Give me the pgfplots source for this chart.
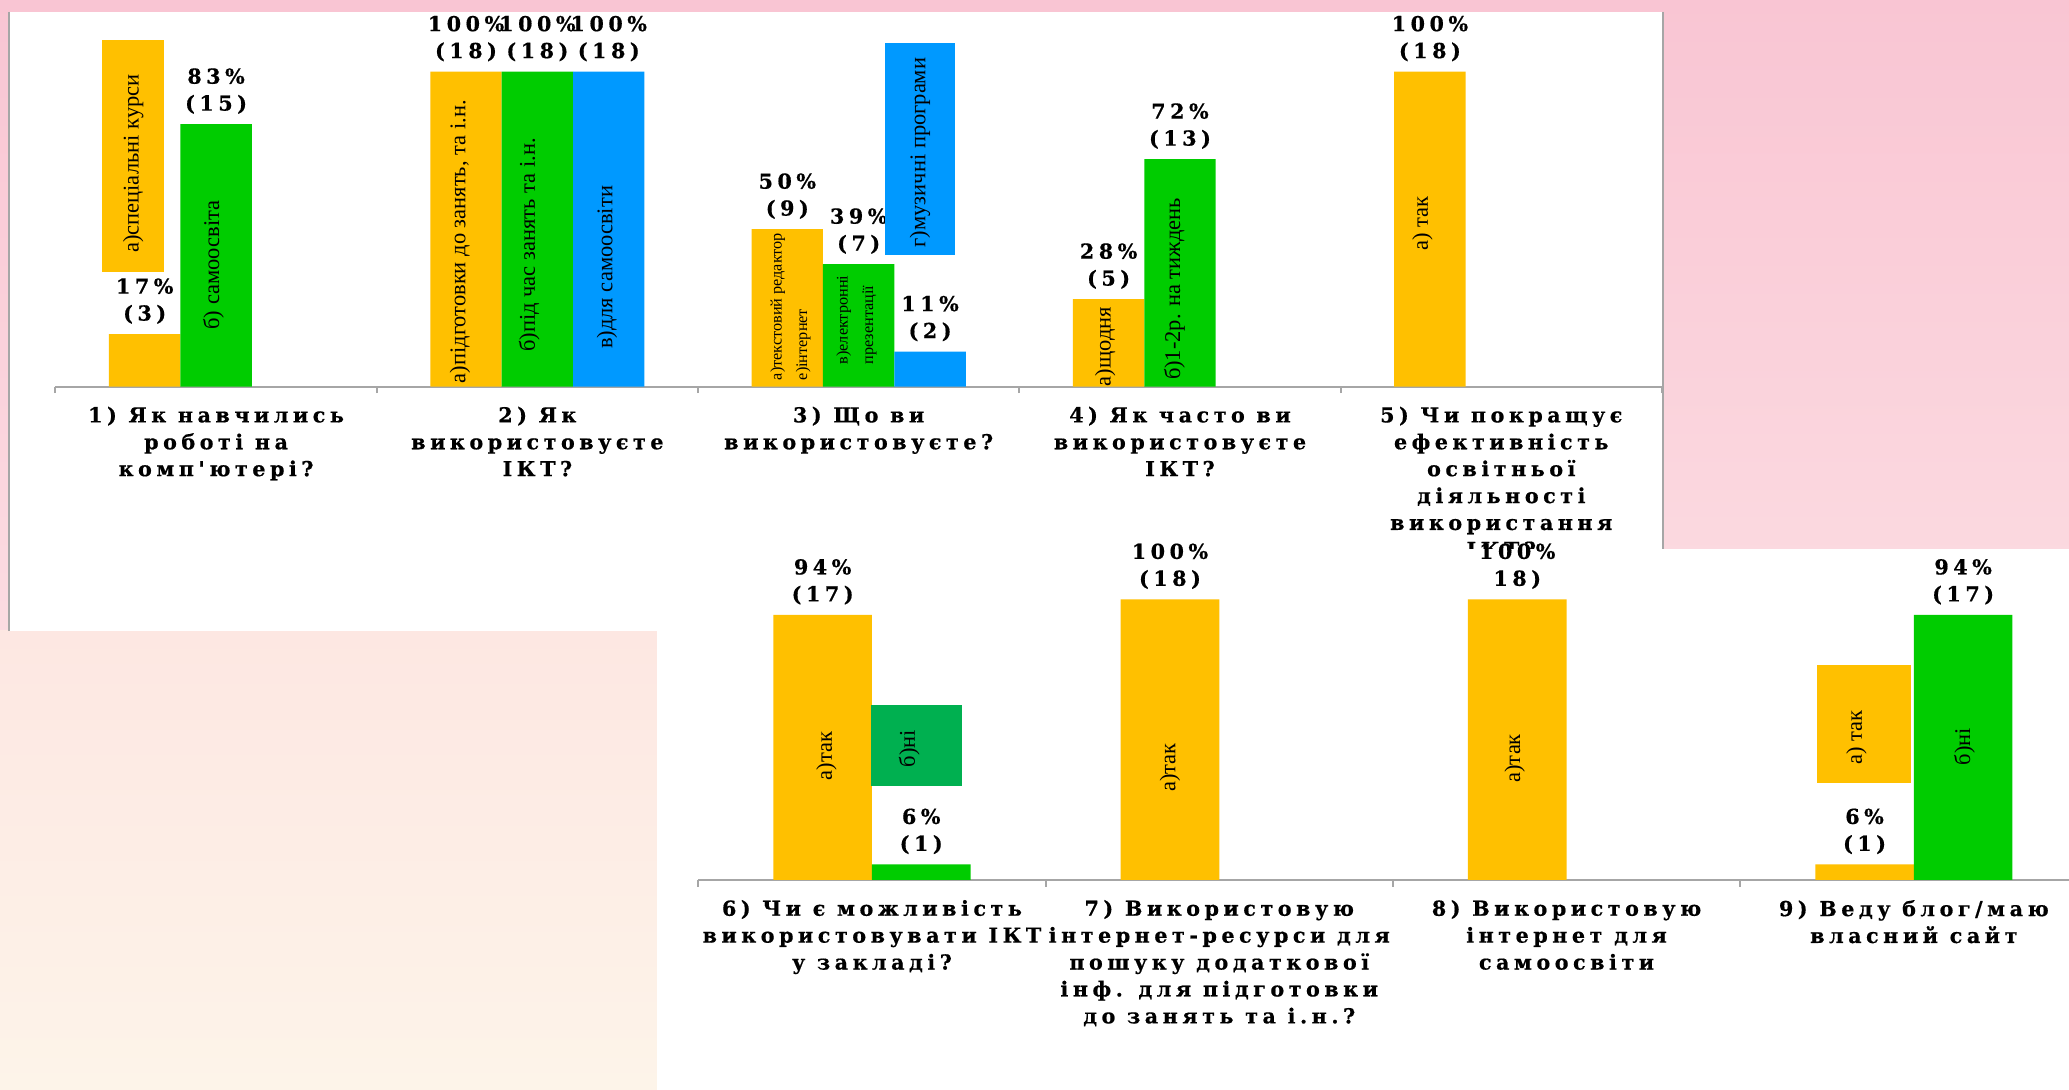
\documentclass[border=0pt]{standalone}
\usepackage{fontspec}
\setmainfont{Liberation Serif}
\newfontfamily\labfont[LetterSpace=22, BoldFeatures={FakeBold=0.6}]{DejaVu Serif}
\usepackage{pgfplots}
\pgfplotsset{compat=1.18}

\definecolor{cOr}{HTML}{FFC000}
\definecolor{cGr}{HTML}{00CC00}
\definecolor{cGrD}{HTML}{00B050}
\definecolor{cBl}{HTML}{0099FF}
\definecolor{axgray}{HTML}{A6A6A6}

\newcommand{\lbl}{\fontsize{8.9}{11.6}\selectfont\labfont\bfseries}
\newcommand{\reg}{\fontsize{9.7}{11.6}\selectfont}
\newcommand{\sml}{\fontsize{7}{11}\selectfont}

\tikzset{
  inlab/.style={rotate=90, font=\reg, inner sep=0pt},
  smlab/.style={rotate=90, font=\sml, inner sep=0pt, align=left},
}

\pgfplotsset{
  panel/.style={
    scale only axis, clip=false,
    ymin=0, ymax=18,
    hide y axis, axis x line*=bottom,
    x axis line style={draw=axgray, line width=0.3mm, -},
    major tick length=0pt,
    minor tick length=1mm, tick align=outside,
    minor tick style={draw=axgray, line width=0.3mm},
    xticklabel style={font=\lbl, align=center, yshift=-1.8mm},
    every node near coord/.append style={font=\lbl, align=center, anchor=south, inner sep=0pt, yshift=1.5mm},
  },
  % bar series: fill colour, label nodes moved with the bar shift
  vbar/.style 2 args={ybar, draw=none, fill=#1, bar shift=#2,
    nodes near coords={\pgfplotspointmeta}, point meta=explicit symbolic,
    every node near coord/.append style={xshift=#2}},
}

\begin{document}
\begin{tikzpicture}
\useasboundingbox (0,0) rectangle (313.6mm,-165.2mm);
\clip (0,0) rectangle (313.6mm,-165.2mm);

% slide background and upper panel
\begin{scope}[x=0.2mm,y=-0.2mm]
\shade[top color={rgb,255:red,249;green,197;blue,211},
  bottom color={rgb,255:red,253;green,236;blue,236}] (0,0) rectangle (1568,826);
\shade[top color={rgb,255:red,253;green,231;blue,226},
  bottom color={rgb,255:red,253;green,244;blue,233}] (0,478) rectangle (498,826);
\fill[white] (7,9) rectangle (1260,478);
\draw[axgray, line width=0.3mm] (7,9) -- (7,478);
\draw[axgray, line width=0.3mm] (1260,9) -- (1260,416);
\end{scope}

% upper chart
\begin{axis}[panel,
  at={(8.4mm,-58.6mm)}, anchor=south west,
  width=243.5mm, height=47.74mm,
  xmin=-0.5, xmax=4.5,
  xtick={0,1,2,3,4},
  minor xtick={-0.5,0.5,1.5,2.5,3.5,4.5},
  xticklabels={{1) Як навчились\\роботі на\\комп'ютері?},
               {2) Як\\використовуєте\\ІКТ?},
               {3) Що ви\\використовуєте?},
               {4) Як часто ви\\використовуєте\\ІКТ?},
               {5) Чи покращує\\ефективність\\освітньої\\діяльності\\використання\\ІКТ?}},
]
\addplot[vbar={cOr}{-10.82mm}, bar width=10.82mm] coordinates {
  (0,3) [17\%\\(3)] (1,18) [100\%\\(18)] (2,9) [50\%\\(9)] (3,5) [28\%\\(5)] (4,18) [100\%\\(18)]
};
\addplot[vbar={cGr}{0mm}, bar width=10.82mm] coordinates {
  (0,15) [83\%\\(15)] (1,18) [100\%\\(18)] (2,7) [39\%\\(7)] (3,13) [72\%\\(13)]
};
\addplot[vbar={cBl}{10.82mm}, bar width=10.82mm] coordinates {
  (1,18) [100\%\\(18)] (2,2) [11\%\\(2)]
};
\end{axis}

\begin{scope}[x=0.2mm,y=-0.2mm]
\fill[cOr] (77.1,30.3) rectangle (124.5,205.9);
\node[inlab] at (101,124) {а)спеціальні курси};
\node[inlab] at (161.7,200.8) {б) самоосвіта};
\node[inlab] at (348.5,183.2) {а)підготовки до занять, та і.н.};
\node[inlab] at (401,185.7) {б)під час занять та і.н.};
\node[inlab] at (460,202.7) {в)для самоосвіти};
\node[smlab] at (599,232.4) {а)текстовий редактор\\е)інтернет};
\node[smlab] at (649,242.5) {в)електронні\\презентації};
\fill[cBl] (671,32.8) rectangle (723.4,193.3);
\node[inlab] at (697.2,115.6) {г)музичні програми};
\node[inlab] at (837.6,262.7) {а)щодня};
\node[inlab] at (890,219) {б)1-2р. на тиждень};
\node[inlab] at (1078,169.4) {а) так};
% lower panel
\fill[white] (498,416) rectangle (1568,826);
\end{scope}

% lower chart
\begin{axis}[panel,
  at={(105.84mm,-133.38mm)}, anchor=south west,
  width=210.56mm, height=42.54mm,
  xmin=-0.5, xmax=3.5,
  xtick={0,1,2,3},
  minor xtick={-0.5,0.5,1.5,2.5,3.5},
  xticklabels={{6) Чи є можливість\\використовувати ІКТ\\у закладі?},
               {7) Використовую\\інтернет-ресурси для\\пошуку  додаткової\\інф. для підготовки\\до занять  та і.н.?},
               {8) Використовую\\інтернет для\\самоосвіти},
               {9) Веду блог/маю\\власний сайт}},
]
\addplot[vbar={cOr}{-7.47mm}, bar width=14.94mm] coordinates {
  (0,17) [94\%\\(17)] (1,18) [100\%\\(18)] (2,18) [100\%\\18)] (3,1) [6\%\\(1)]
};
\addplot[vbar={cGr}{7.47mm}, bar width=14.94mm] coordinates {
  (0,1) [6\%\\(1)] (3,17) [94\%\\(17)]
};
\end{axis}

\begin{scope}[x=0.2mm,y=-0.2mm]
\node[inlab] at (626.3,573.1) {а)так};
\fill[cGrD] (660.4,534.5) rectangle (729.4,595.7);
\node[inlab] at (689,567.2) {б)ні};
\node[inlab] at (886.7,581.7) {а)так};
\node[inlab] at (1148,574.7) {а)так};
\fill[cOr] (1376.9,504) rectangle (1448.1,593.4);
\node[inlab] at (1407,558.9) {а) так};
\node[inlab] at (1488.7,565.8) {б)ні};
\end{scope}
\end{tikzpicture}
\end{document}
